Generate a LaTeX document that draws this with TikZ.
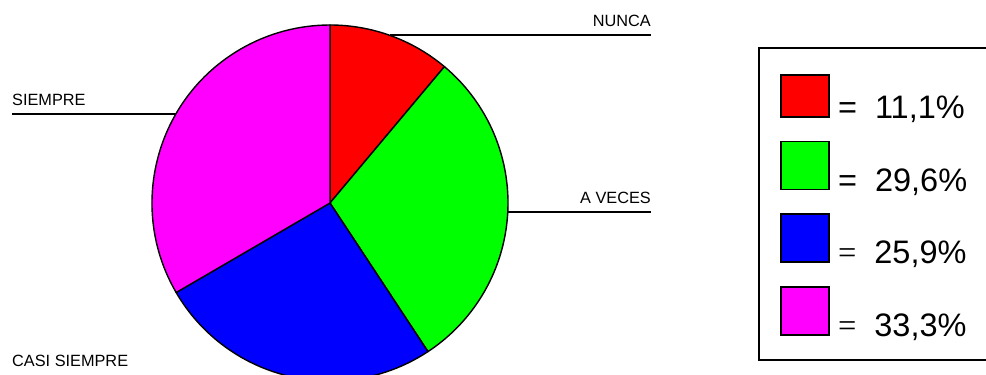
\documentclass[tikz,border=0pt]{standalone}
\usepackage{fontspec}
\setmainfont{Liberation Sans}
\newfontfamily\eqserif{Liberation Serif}
\definecolor{NuncaRed}{RGB}{255,0,0}
\definecolor{VecesGreen}{RGB}{0,255,0}
\definecolor{CasiBlue}{RGB}{0,0,255}
\definecolor{SiempreMagenta}{RGB}{255,0,255}
\usetikzlibrary{positioning}

\begin{document}
\begin{tikzpicture}[
        x=1pt, y=1pt,
        node distance=23pt,
        slice/.style={draw=black, line width=1.4pt, line join=round},
        leader/.style={draw, line width=1.2pt},
        lbl/.style={inner sep=0pt, font=\fontsize{16.3}{19}\selectfont},
        swatch/.style={draw, line width=1.6pt, minimum width=48pt, minimum height=48pt, inner sep=0pt},
        pct/.style={inner sep=0pt, anchor=base west, font=\fontsize{32.5}{38}\selectfont}
    ]
    \useasboundingbox (0,0) rectangle (986,375);

    % pie
    \coordinate (o) at (330,172);
    \path[slice, fill=NuncaRed] (o) -- +(90:178) arc[start angle=90, end angle=50, radius=178] -- cycle;
    \path[slice, fill=VecesGreen] (o) -- +(50:178) arc[start angle=50, end angle=-56.6, radius=178] -- cycle;
    \path[slice, fill=CasiBlue] (o) -- +(-56.6:178) arc[start angle=-56.6, end angle=-149.8, radius=178] -- cycle;
    \path[slice, fill=SiempreMagenta] (o) -- +(-149.8:178) arc[start angle=-149.8, end angle=-270, radius=178] -- cycle;

    % labels
    \node[lbl, anchor=base east] (nunca) at (651,348) {NUNCA};
    \coordinate (nuncaTip) at (390,340);
    \draw[leader] (nuncaTip) -- (nuncaTip -| nunca.east);

    \node[lbl, anchor=base east] (veces) at (651,171) {A VECES};
    \coordinate (vecesTip) at (507,163);
    \draw[leader] (vecesTip) -- (vecesTip -| veces.east);

    \node[lbl, anchor=base west] (siempre) at (12,269) {SIEMPRE};
    \coordinate (siempreTip) at (176,261);
    \draw[leader] (siempreTip -| siempre.west) -- (siempreTip);

    \node[lbl, anchor=base west] (casi) at (12,8) {CASI SIEMPRE};

    % legend
    \draw[line width=2pt] (759,15) rectangle (996,327);
    \node[swatch, fill=NuncaRed, minimum height=42pt] (sqNunca) at (805,279) {};
    \node[swatch, fill=VecesGreen, below=of sqNunca] (sqVeces) {};
    \node[swatch, fill=CasiBlue, below=of sqVeces] (sqCasi) {};
    \node[swatch, fill=SiempreMagenta, below=of sqCasi] (sqSiempre) {};

    \node[pct] (pctNunca) at ([xshift=8pt, yshift=-1pt]sqNunca.south east) {=\ \ 11,1\%};
    \node[pct] (pctVeces) at ([xshift=8pt, yshift=-1pt]sqVeces.south east) {=\ \ 29,6\%};
    \node[pct] (pctCasi) at ([xshift=8pt, yshift=-1pt]sqCasi.south east) {{\eqserif =}\ \ 25,9\%};
    \node[pct] (pctSiempre) at ([xshift=8pt, yshift=-1pt]sqSiempre.south east) {{\eqserif =}\ \ 33,3\%};
\end{tikzpicture}
\end{document}
